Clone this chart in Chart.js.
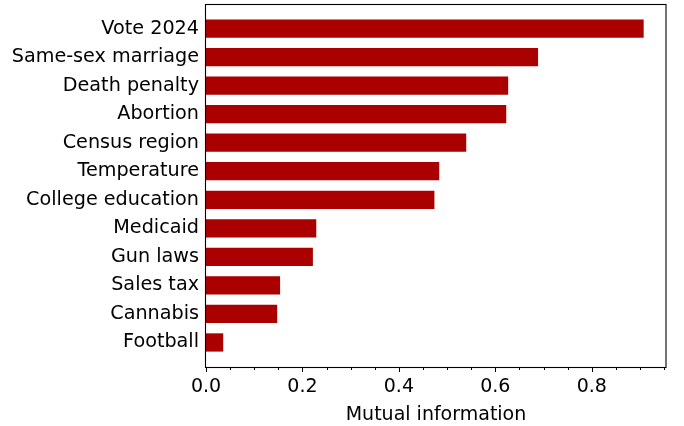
<!DOCTYPE html>
<html>
<head>
<meta charset="utf-8">
<script src="https://cdn.jsdelivr.net/npm/chart.js@4"></script>
<style>
  html, body { margin: 0; padding: 0; background: #fff; }
  #wrap { width: 684px; height: 426px; position: relative; }
</style>
</head>
<body>
<div id="wrap"><canvas id="chart"></canvas></div>
<script>
const categories = [
  "Vote 2024", "Same-sex marriage", "Death penalty", "Abortion",
  "Census region", "Temperature", "College education", "Medicaid",
  "Gun laws", "Sales tax", "Cannabis", "Football"
];
const mutualInfo = [0.907, 0.688, 0.626, 0.622, 0.539, 0.483, 0.473, 0.228, 0.221, 0.153, 0.147, 0.035];
const xTickStep = 0.05;
const xLabelStep = 0.2;

const FONT = "'DejaVu Sans', sans-serif";
Chart.defaults.font.family = FONT;
Chart.defaults.color = "#000";

// box around the plot + short minor / longer major ticks on the x axis
const framePlugin = {
  id: "frame",
  afterDraw(chart) {
    const { ctx, chartArea: a, scales } = chart;
    ctx.save();
    ctx.strokeStyle = "#000";
    ctx.lineWidth = 1.1;
    ctx.strokeRect(a.left - 0.5, a.top + 0.5, a.right - a.left + 0.5, a.bottom - a.top);
    const x = scales.x;
    ctx.lineWidth = 1;
    x.ticks.forEach(t => {
      const r = t.value / xLabelStep;
      const major = Math.abs(r - Math.round(r)) < 1e-6;
      const px = Math.round(x.getPixelForValue(t.value)) + 0.5;
      ctx.beginPath();
      ctx.moveTo(px, a.bottom);
      ctx.lineTo(px, a.bottom + (major ? 5 : 3));
      ctx.stroke();
    });
    ctx.restore();
  }
};

new Chart(document.getElementById("chart"), {
  type: "bar",
  data: {
    datasets: [{
      data: mutualInfo.map((v, i) => ({ x: v, y: i })),
      backgroundColor: "#aa0000",
      borderWidth: 0,
      barThickness: 17.6
    }]
  },
  options: {
    indexAxis: "y",
    responsive: true,
    maintainAspectRatio: false,
    animation: false,
    layout: { padding: { top: 4, right: 18, left: 0, bottom: 0 } },
    plugins: { legend: { display: false }, tooltip: { enabled: false } },
    scales: {
      x: {
        type: "linear",
        bounds: "data",
        min: 0,
        max: 0.954,
        grid: { display: false, drawTicks: false },
        border: { display: false },
        ticks: {
          stepSize: xTickStep,
          includeBounds: false,
          autoSkip: false,
          maxRotation: 0,
          padding: 9,
          font: { size: 19 },
          callback: (v) => {
            const r = v / xLabelStep;
            return Math.abs(r - Math.round(r)) < 1e-6 ? Number(v).toFixed(1) : "";
          }
        },
        title: {
          display: true,
          text: "Mutual information",
          font: { size: 19 },
          padding: { top: 4, bottom: 0 }
        },
        afterFit: (s) => { s.height = 59; s.paddingLeft = 0; s.paddingRight = 0; }
      },
      y: {
        type: "linear",
        bounds: "data",
        offset: false,
        reverse: true,
        min: -0.86,
        max: 11.86,
        grid: { display: false, drawTicks: false, offset: false },
        border: { display: false },
        afterBuildTicks: (s) => { s.ticks = categories.map((_, i) => ({ value: i })); },
        ticks: {
          autoSkip: false,
          padding: 7,
          font: { size: 19.2 },
          callback: (v) => categories[v]
        },
        afterFit: (s) => { s.width = 206; s.paddingTop = 0; s.paddingBottom = 0; }
      }
    }
  },
  plugins: [framePlugin]
});
</script>
</body>
</html>
